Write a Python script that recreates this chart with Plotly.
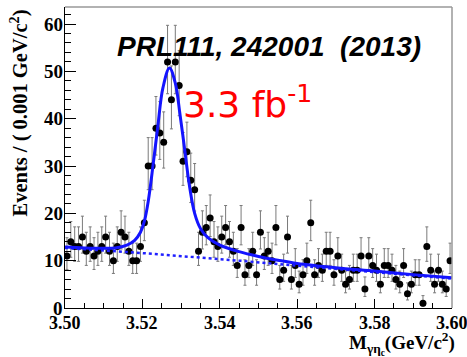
import numpy as np
import plotly.graph_objects as go

# ---- data ----
bin_lo, bin_hi, n_bins = 3.50, 3.60, 100
counts = [11, 14, 13, 13, 15, 12, 13, 11, 12, 13,
          15, 12, 10, 13, 16, 15, 12, 10, 10, 13,
          18, 30, 30, 38, 37, 35, 52, 44, 52, 47,
          31, 33, 27, 25, 12, 16, 17, 19, 14, 13,
          15, 17, 14, 12, 9, 17, 7, 9, 12, 7,
          16, 11, 12, 10, 17, 6, 8, 15, 6, 9,
          5, 7, 10, 18, 7, 9, 8, 12, 12, 7,
          11, 8, 5, 6, 8, 8, 11, 4, 11, 9,
          8, 5, 9, 9, 8, 6, 5, 9, 3, 5,
          7, 7, 1, 13, 8, 5, 8, 5, 4, 10]

fit_x = [3.5000, 3.5050, 3.5100, 3.5130, 3.5160, 3.5180, 3.5195, 3.5205, 3.5215,
         3.5228, 3.5240, 3.5253, 3.5270, 3.5285, 3.5297, 3.5310, 3.5322, 3.5335,
         3.5350, 3.5370, 3.5400, 3.5450, 3.5500, 3.5550, 3.5600, 3.5700, 3.5800,
         3.5900, 3.6000]
fit_y = [12.9, 12.7, 12.6, 12.7, 13.3, 14.3, 16.0, 18.3, 22.5,
         30.5, 38.5, 46.5, 50.7, 47.5, 41.0, 33.0, 25.6, 20.0,
         16.8, 14.8, 13.3, 11.9, 10.9, 10.1, 9.4, 8.5, 7.8,
         7.05, 6.4]

bkg_x = [3.50, 3.52, 3.545, 3.60]
bkg_y = [12.7, 11.6, 10.0, 6.2]

x_ticks = [3.50, 3.52, 3.54, 3.56, 3.58, 3.60]
x_ticktext = ["3.50", "3.52", "3.54", "3.56", "3.58", "3.60"]
y_ticks = [0, 10, 20, 30, 40, 50, 60]
y_ticktext = ["0", "10", "20", "30", "40", "50", "60"]

# ---- derived ----
edges = np.linspace(bin_lo, bin_hi, n_bins + 1)
centers = 0.5 * (edges[:-1] + edges[1:])
n = np.array(counts, dtype=float)
err_hi = np.sqrt(n + 0.25) + 0.5
err_lo = np.sqrt(n + 0.25) - 0.5

W, H = 467, 357
ML, MR, MT, MB = 65, 15, 7, 49
PW, PH = W - ML - MR, H - MT - MB


def px2paper_x(px):
    return (px - ML) / PW


def px2paper_y(py):
    return (H - MB - py) / PH


serif = "Liberation Serif"
sans = "Liberation Sans"

fig = go.Figure()
fig.add_trace(go.Scatter(
    x=centers, y=n, mode="markers",
    marker=dict(color="black", size=7),
    error_y=dict(type="data", array=err_hi, arrayminus=err_lo, symmetric=False,
                 color="#7a7a7a", thickness=1, width=1.5),
    showlegend=False))
fig.add_trace(go.Scatter(
    x=bkg_x, y=bkg_y, mode="lines",
    line=dict(color="#2020ff", width=2.5, dash="3px,3px"), showlegend=False))
fig.add_trace(go.Scatter(
    x=fit_x, y=fit_y, mode="lines", line_shape="spline",
    line=dict(color="#1414ff", width=3), showlegend=False))

annotations = [
    dict(text="<b><i>PRL111, 242001\u00a0\u00a0(2013)</i></b>",
         xref="paper", yref="paper", x=px2paper_x(269), y=px2paper_y(47),
         xanchor="center", yanchor="middle", showarrow=False,
         font=dict(family=sans, size=28, color="black")),
    dict(text="3.3 fb<sup>-1</sup>",
         xref="paper", yref="paper", x=px2paper_x(181), y=px2paper_y(102),
         xanchor="left", yanchor="middle", showarrow=False,
         font=dict(family="DejaVu Sans", size=36, color="#ff0000")),
    dict(text="<b>Events / ( 0.001 GeV/c<sup>2</sup>)</b>",
         xref="paper", yref="paper", x=px2paper_x(19), y=px2paper_y(8),
         xanchor="center", yanchor="top", textangle=-90, showarrow=False,
         font=dict(family=serif, size=20.5, color="black")),
    dict(text="<b>M<sub>γη<sub>c</sub></sub>(GeV/c<sup>2</sup>)</b>",
         xref="paper", yref="paper", x=px2paper_x(456), y=px2paper_y(359),
         xanchor="right", yanchor="bottom", showarrow=False, borderpad=0,
         font=dict(family=serif, size=19, color="black")),
]
# tick labels placed ROOT style, right against the axes
for v, t in zip(y_ticks, y_ticktext):
    annotations.append(dict(text="<b>" + t + "</b>", xref="paper", yref="y",
                            x=px2paper_x(64), y=v, xanchor="right", yanchor="middle",
                            showarrow=False, borderpad=0,
                            font=dict(family=serif, size=19, color="black")))
for v, t in zip(x_ticks, x_ticktext):
    annotations.append(dict(text="<b>" + t + "</b>", xref="x", yref="paper",
                            x=v, y=px2paper_y(322.5), xanchor="center", yanchor="middle",
                            showarrow=False, borderpad=0,
                            font=dict(family=serif, size=18, color="black")))

fig.update_layout(
    width=W, height=H,
    margin=dict(l=ML, r=MR, t=MT, b=MB),
    paper_bgcolor="white", plot_bgcolor="white",
    xaxis=dict(range=[bin_lo - 1e-6, bin_hi + 1e-6], tickvals=x_ticks, showticklabels=False,
               ticks="inside", ticklen=9, tickwidth=1, tickcolor="black",
               minor=dict(tick0=3.5, dtick=0.005, ticks="inside", ticklen=5,
                          tickcolor="black", tickwidth=1),
               showline=True, linecolor="black", linewidth=1, mirror=False,
               showgrid=False, zeroline=False),
    yaxis=dict(range=[-1e-3, 63.6], tickvals=y_ticks, showticklabels=False,
               ticks="inside", ticklen=11, tickwidth=1, tickcolor="black",
               minor=dict(tick0=0, dtick=2, ticks="inside", ticklen=6,
                          tickcolor="black", tickwidth=1),
               showline=True, linecolor="black", linewidth=1, mirror=False,
               showgrid=False, zeroline=False),
    shapes=[
        dict(type="line", xref="paper", yref="paper", x0=0, x1=1, y0=1, y1=1,
             line=dict(color="#999999", width=1.5)),
        dict(type="line", xref="paper", yref="paper", x0=1, x1=1, y0=0, y1=1,
             line=dict(color="#999999", width=1.5)),
    ],
    annotations=annotations,
)

fig.write_html("out.html")
